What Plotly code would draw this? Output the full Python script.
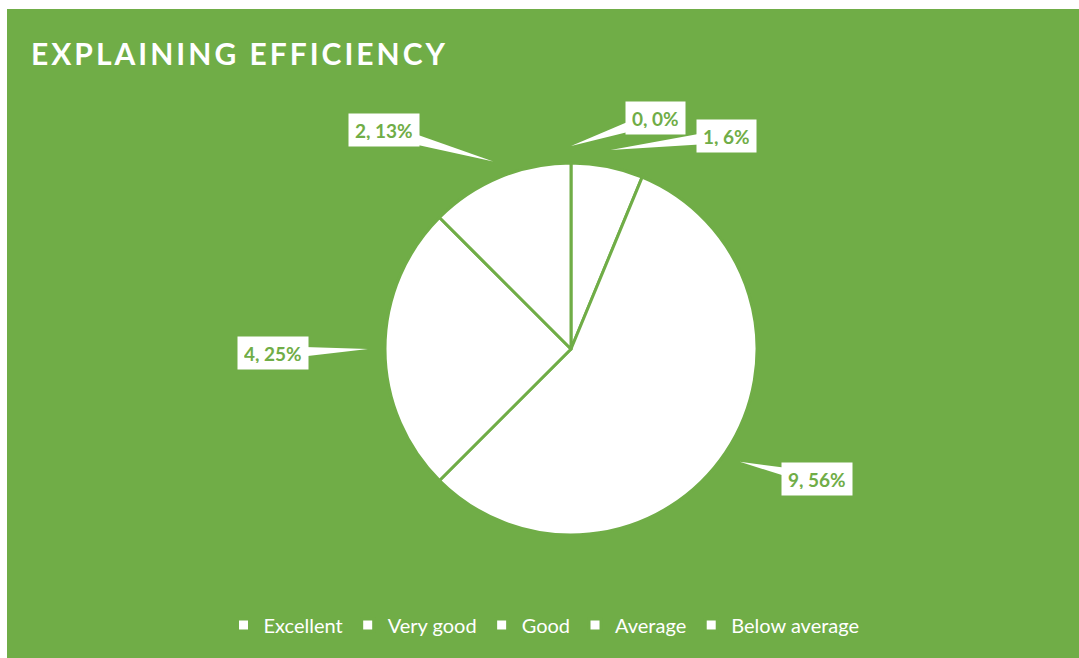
import math

import plotly.graph_objects as go

# data
labels = ["Excellent", "Very good", "Good", "Average", "Below average"]
values = [0, 1, 9, 4, 2]

GREEN = "#70AD47"
W, H = 1079, 658

# pie placement (pixels)
cx, cy, r = 571, 349, 186
tip_r = r + 17
# label box offsets from the leader tip (pixels, right / down)
label_dx = [84, 116, 77, -95, -109]
label_dy = [-28, -14, 17, 4, -31]


def px_to_paper(x, y):
    return x / W, 1 - y / H


total = sum(values)
fig = go.Figure()
fig.add_trace(go.Pie(
    labels=labels, values=values, sort=False, direction="clockwise", rotation=0,
    textinfo="none", hoverinfo="label+value+percent",
    marker=dict(colors=["white"] * len(values), line=dict(color=GREEN, width=3)),
    domain=dict(x=[(cx - r) / W, (cx + r) / W], y=[1 - (cy + r) / H, 1 - (cy - r) / H]),
))

# green panel (white strip left / top like the source image)
shapes = [dict(type="rect", xref="paper", yref="paper", x0=7 / W, x1=1, y0=0, y1=1 - 9 / H,
               fillcolor=GREEN, line=dict(width=0), layer="below")]
annotations = []

# callout labels
cum = 0
for lab, v, dx, dy in zip(labels, values, label_dx, label_dy):
    mid = (cum + v / 2) / total * 2 * math.pi
    cum += v
    tx = cx + tip_r * math.sin(mid)
    ty = cy - tip_r * math.cos(mid)
    bx, by = tx + dx, ty + dy
    # wedge from box centre to tip
    L = math.hypot(dx, dy)
    nx, ny = -dy / L * 7, dx / L * 7
    p = [px_to_paper(tx, ty), px_to_paper(bx + nx, by + ny), px_to_paper(bx - nx, by - ny)]
    shapes.append(dict(
        type="path", xref="paper", yref="paper",
        path="M{},{} L{},{} L{},{} Z".format(p[0][0], p[0][1], p[1][0], p[1][1], p[2][0], p[2][1]),
        fillcolor="white", line=dict(width=0), layer="above",
    ))
    pct = int(v / total * 100 + 0.5)
    ax_, ay_ = px_to_paper(bx, by)
    annotations.append(dict(
        x=ax_, y=ay_, xref="paper", yref="paper", showarrow=False,
        text="<b>{}, {}%</b>".format(v, pct),
        font=dict(family="Lato", size=19, color=GREEN),
        bgcolor="white", borderpad=6, height=20, xanchor="center", yanchor="middle",
    ))

fig.update_layout(
    width=W, height=H,
    margin=dict(l=0, r=0, t=0, b=0),
    paper_bgcolor="white",
    title=dict(
        text="<b>EXPLAINING EFFICIENCY</b>",
        font=dict(family="Lato", size=30, color="white"),
        x=31 / W, xanchor="left", xref="paper",
        y=1 - 54 / H, yanchor="middle", yref="container",
    ),
    showlegend=True,
    legend=dict(
        orientation="h", x=544 / W, xanchor="center", y=1 - 625 / H, yanchor="middle",
        font=dict(family="Lato", size=20, color="white"),
        bgcolor="rgba(0,0,0,0)", itemwidth=30,
    ),
    shapes=shapes,
    annotations=annotations,
)

# no page margin, and spaced-out title letters as in the source
js = """
document.body.style.margin = '0';
var gd = document.getElementById('{plot_id}');
gd.querySelectorAll('.gtitle').forEach(function (t) { t.style.letterSpacing = '3px'; });
"""
fig.write_html("out.html", post_script=js, config={"displayModeBar": False})
